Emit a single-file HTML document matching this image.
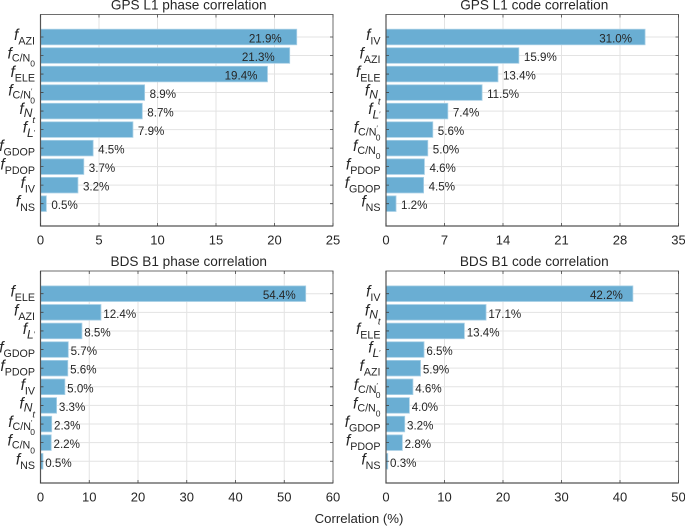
<!DOCTYPE html>
<html lang="en">
<head>
<meta charset="utf-8">
<title>Correlation charts</title>
<style>
html,body{margin:0;padding:0;background:#fff;width:685px;height:526px;overflow:hidden}
svg{display:block}
text{font-family:"Liberation Sans",Arial,sans-serif;fill:#262626}
</style>
</head>
<body>
<svg id="chart" width="685" height="526" viewBox="0 0 685 526" xmlns="http://www.w3.org/2000/svg"></svg>
<script>
const gpsPhaseCategories = ['AZI','CN0','ELE','CN0p','Nt','Lp','GDOP','PDOP','IV','NS'];
const gpsPhaseValues = [21.9,21.3,19.4,8.9,8.7,7.9,4.5,3.7,3.2,0.5];
const gpsPhaseTicks = [0,5,10,15,20,25];

const gpsCodeCategories = ['IV','AZI','ELE','Nt','Lp','CN0p','CN0','PDOP','GDOP','NS'];
const gpsCodeValues = [31.0,15.9,13.4,11.5,7.4,5.6,5.0,4.6,4.5,1.2];
const gpsCodeTicks = [0,7,14,21,28,35];

const bdsPhaseCategories = ['ELE','AZI','Lp','GDOP','PDOP','IV','Nt','CN0p','CN0','NS'];
const bdsPhaseValues = [54.4,12.4,8.5,5.7,5.6,5.0,3.3,2.3,2.2,0.5];
const bdsPhaseTicks = [0,10,20,30,40,50,60];

const bdsCodeCategories = ['IV','Nt','ELE','Lp','AZI','CN0p','CN0','GDOP','PDOP','NS'];
const bdsCodeValues = [42.2,17.1,13.4,6.5,5.9,4.6,4.0,3.2,2.8,0.3];
const bdsCodeTicks = [0,10,20,30,40,50];

const panels = [
  {name:'gps-phase', title:'GPS L1 phase correlation', cats:gpsPhaseCategories, vals:gpsPhaseValues, ticks:gpsPhaseTicks, l:40.5, r:333, t:14.5, b:226, first:37, step:18.52, gap:5, insets:[15,15,10], inside:15},
  {name:'gps-code', title:'GPS L1 code correlation', cats:gpsCodeCategories, vals:gpsCodeValues, ticks:gpsCodeTicks, l:386, r:678.5, t:14.5, b:226, first:37, step:18.52, gap:5, insets:[13], inside:20},
  {name:'bds-phase', title:'BDS B1 phase correlation', cats:bdsPhaseCategories, vals:bdsPhaseValues, ticks:bdsPhaseTicks, l:40.5, r:333, t:271, b:483, first:293.7, step:18.62, gap:2.3, insets:[10], inside:30},
  {name:'bds-code', title:'BDS B1 code correlation', cats:bdsCodeCategories, vals:bdsCodeValues, ticks:bdsCodeTicks, l:386, r:678.5, t:271, b:483, first:293.7, step:18.62, gap:2.3, insets:[10], inside:30}
];

const NS = 'http://www.w3.org/2000/svg';
const svg = document.getElementById('chart');

function make(tag, attrs, parent, txt) {
  const el = document.createElementNS(NS, tag);
  for (const k in attrs) el.setAttribute(k, attrs[k]);
  if (txt !== undefined) el.textContent = txt;
  parent.appendChild(el);
  return el;
}

function span(parent, txt, size, dy, italic, dx) {
  const a = {'font-size': size};
  if (dy) a.dy = dy;
  if (dx) a.dx = dx;
  if (italic) a['font-style'] = 'italic';
  make('tspan', a, parent, txt);
}

function drawLabel(parent, cat, x, y) {
  const t = make('text', {x: x, y: y + 3, 'text-anchor': 'end'}, parent);
  
  
  span(t, 'f', 15.5, 0, true);
  if (cat === 'CN0' || cat === 'CN0p') {
    span(t, 'C/N', 10.7, 3);
    if (cat === 'CN0p') {
      span(t, '\u2032', 7, -5);
      span(t, '0', 8.5, 10, false, -2);
    } else {
      span(t, '0', 8.5, 5);
    }
  } else if (cat === 'Nt') {
    span(t, 'N', 12, 3, true);
    span(t, 't', 9.5, 6, true);
  } else if (cat === 'Lp') {
    span(t, 'L', 12, 4.5, true);
    span(t, '\u2032', 7, -2);
  } else {
    span(t, cat, 10.7, 4.5);
  }
}

function drawPanel(p) {
  const g = make('g', {}, svg);
  
  
  const max = p.ticks[p.ticks.length - 1];
  const xScale = v => p.l + (v / max) * (p.r - p.l);
  const yScale = i => p.first + i * p.step;

  p.ticks.forEach(v => {
    const x = xScale(v);
    const line = make('line', {x1: x, x2: x, y1: p.t, y2: p.b, stroke: '#e3e3e3', 'stroke-width': 1}, g);
    
    
  });
  p.cats.forEach((c, i) => {
    const y = yScale(i);
    const line = make('line', {x1: p.l, x2: p.r, y1: y, y2: y, stroke: '#e3e3e3', 'stroke-width': 1}, g);
    
    
  });

  p.vals.forEach((v, i) => {
    const y = yScale(i);
    const bar = make('rect', {x: p.l, y: y - 7.8, width: xScale(v) - p.l, height: 15.6, fill: '#6aaed3', stroke: '#a9d0e6', 'stroke-width': 0.8}, g);
    
    
  });

  const frame = make('path', {d: `M${p.l} ${p.t}H${p.r}V${p.b}H${p.l}Z`, fill: 'none', stroke: '#6e6e6e', 'stroke-width': 1}, g);
  
  
  const axisL = make('path', {d: `M${p.l} ${p.t}V${p.b}H${p.r}`, fill: 'none', stroke: '#555', 'stroke-width': 1.2}, g);
  
  

  p.ticks.forEach(v => {
    const x = xScale(v);
    const tk = make('path', {d: `M${x} ${p.b}v-3M${x} ${p.t}v3`, stroke: '#444', 'stroke-width': 0.8, fill: 'none'}, g);
    
    
    const lab = make('text', {x: x, y: p.b + 18.5, 'text-anchor': 'middle', 'font-size': 13}, g, String(v));
    
    
  });

  p.cats.forEach((c, i) => {
    const y = yScale(i);
    const tk = make('path', {d: `M${p.l} ${y}h3M${p.r} ${y}h-3`, stroke: '#444', 'stroke-width': 0.8, fill: 'none'}, g);
    
    
    drawLabel(g, c, p.l - 5.5, y);
  });

  let insideCount = 0;
  p.vals.forEach((v, i) => {
    const y = yScale(i) + 5.5;
    const txt = v.toFixed(1) + '%';
    const isIn = v > p.inside;
    const inset = isIn ? p.insets[Math.min(insideCount++, p.insets.length - 1)] : 0;
    const a = isIn
      ? {x: xScale(v) - inset, y: y, 'text-anchor': 'end', 'font-size': 11.6}
      : {x: xScale(v) + p.gap, y: y, 'text-anchor': 'start', 'font-size': 11.6};
    const lab = make('text', a, g, txt);
    
    
  });

  const title = make('text', {x: (p.l + p.r) / 2 + 2, y: p.t - 5, 'text-anchor': 'middle', 'font-size': 13.6}, g, p.title);
  
  
}

panels.forEach(drawPanel);

const xTitle = make('text', {x: 359, y: 523, 'text-anchor': 'middle', 'font-size': 13.2}, svg, 'Correlation (%)');


</script>
</body>
</html>
